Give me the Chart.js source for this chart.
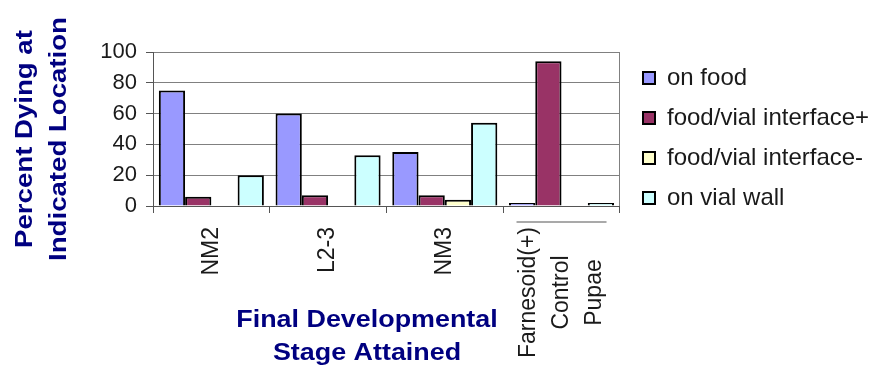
<!DOCTYPE html>
<html>
<head>
<meta charset="utf-8">
<script src="https://cdn.jsdelivr.net/npm/chart.js@4"></script>
<style>
  html, body { margin: 0; padding: 0; background: #ffffff; }
  canvas { display: block; }
</style>
</head>
<body>
<canvas id="chart" width="872" height="376"></canvas>
<script>
// Categories (final developmental stage attained)
const stages = ['NM2', 'L2-3', 'NM3', ['Farnesoid(+)', 'Control', 'Pupae']];

// Percent of animals dying at each location
const onFood = [75, 60, 35, 2];
const interfacePlus = [6, 7, 7, 94];
const interfaceMinus = [0, 0, 4, 0];
const onVialWall = [20, 33, 54, 2];

// Value axis ticks
const yTicks = [0, 20, 40, 60, 80, 100];

// Axis titles
const yTitle = ['Percent Dying at', 'Indicated Location'];
const xTitle = ['Final Developmental', 'Stage Attained'];

const FONT = "'Liberation Sans', Arial, sans-serif";
const NAVY = '#000080';

// Places the legend block beside the plot
const legendPlacement = {
  id: 'legendPlacement',
  afterLayout(chart) {
    const lg = chart.legend;
    if (!lg) return;
    const w = lg.width, h = lg.height;
    lg.left = 627; lg.right = 627 + w;
    lg.top = 50; lg.bottom = 50 + h;
  }
};

// Rotated category labels and the two axis titles
const axisText = {
  id: 'axisText',
  afterDraw(chart) {
    const ctx = chart.ctx;
    const xs = chart.scales.x;
    ctx.save();

    ctx.font = '23px ' + FONT;
    ctx.fillStyle = '#1a1a1a';
    ctx.textBaseline = 'middle';
    ctx.textAlign = 'center';
    const lineGap = 33;
    stages.forEach((lab, i) => {
      const lines = [].concat(lab);
      const cx = xs.getPixelForTick(i);
      const maxW = Math.max(...lines.map(t => ctx.measureText(t).width));
      const top = xs.top + 21;
      ctx.save();
      ctx.translate(cx, top);
      ctx.rotate(-Math.PI / 2);
      lines.forEach((t, j) => {
        ctx.fillText(t, -maxW / 2, (j - (lines.length - 1) / 2) * lineGap);
      });
      ctx.restore();
      if (lines.length > 1) {
        const half = (lines.length - 1) / 2 * lineGap + 12;
        ctx.save();
        ctx.strokeStyle = '#8c8c8c';
        ctx.lineWidth = 1.5;
        ctx.beginPath();
        ctx.moveTo(cx - half, xs.top + 16);
        ctx.lineTo(cx + half, xs.top + 16);
        ctx.stroke();
        ctx.restore();
      }
    });

    ctx.font = 'bold 24px ' + FONT;
    ctx.fillStyle = NAVY;
    xTitle.forEach((t, j) => {
      ctx.save();
      ctx.translate(367, 320 + j * 33);
      ctx.scale(1.12, 1);
      ctx.fillText(t, 0, 0);
      ctx.restore();
    });

    yTitle.forEach((t, j) => {
      ctx.save();
      ctx.translate(25 + j * 34, 139);
      ctx.rotate(-Math.PI / 2);
      ctx.scale(1.15, 1);
      ctx.fillText(t, 0, 0);
      ctx.restore();
    });

    ctx.restore();
  }
};

const series = [
  { label: 'on food', data: onFood, color: '#9999FF' },
  { label: 'food/vial interface+', data: interfacePlus, color: '#993366' },
  { label: 'food/vial interface-', data: interfaceMinus, color: '#FFFFCC' },
  { label: 'on vial wall', data: onVialWall, color: '#CCFFFF' }
];

new Chart(document.getElementById('chart'), {
  type: 'bar',
  data: {
    labels: stages,
    datasets: series.map(s => ({
      label: s.label,
      data: s.data,
      backgroundColor: s.color,
      borderColor: '#000000',
      borderWidth: 2,
      categoryPercentage: 0.9,
      barPercentage: 1.0
    }))
  },
  options: {
    responsive: false,
    animation: false,
    devicePixelRatio: 1,
    layout: { padding: { top: 52, left: 0, right: 0, bottom: 0 } },
    plugins: {
      legend: {
        position: 'right',
        align: 'start',
        maxWidth: 255,
        labels: {
          boxWidth: 12,
          boxHeight: 12,
          padding: 16,
          color: '#1a1a1a',
          font: { family: FONT, size: 24 }
        }
      },
      tooltip: { enabled: false }
    },
    scales: {
      x: {
        offset: true,
        grid: {
          offset: true,
          drawOnChartArea: true,
          color: c => (c.type === 'tick' ? 'rgba(0,0,0,0)' : '#808080'),
          tickColor: '#555555',
          tickLength: 7,
          lineWidth: 1
        },
        border: { color: '#555555', width: 1 },
        ticks: { display: false },
        afterFit: s => { s.height = 170; }
      },
      y: {
        min: 0,
        max: 100,
        afterBuildTicks: s => { s.ticks = yTicks.map(v => ({ value: v })); },
        ticks: {
          padding: 9,
          color: '#1a1a1a',
          font: { family: FONT, size: 22 }
        },
        grid: { color: '#808080', tickColor: '#555555', tickLength: 7, lineWidth: 1 },
        border: { color: '#555555', width: 1 },
        afterFit: s => { s.width = 153; }
      }
    }
  },
  plugins: [legendPlacement, axisText]
});
</script>
</body>
</html>
